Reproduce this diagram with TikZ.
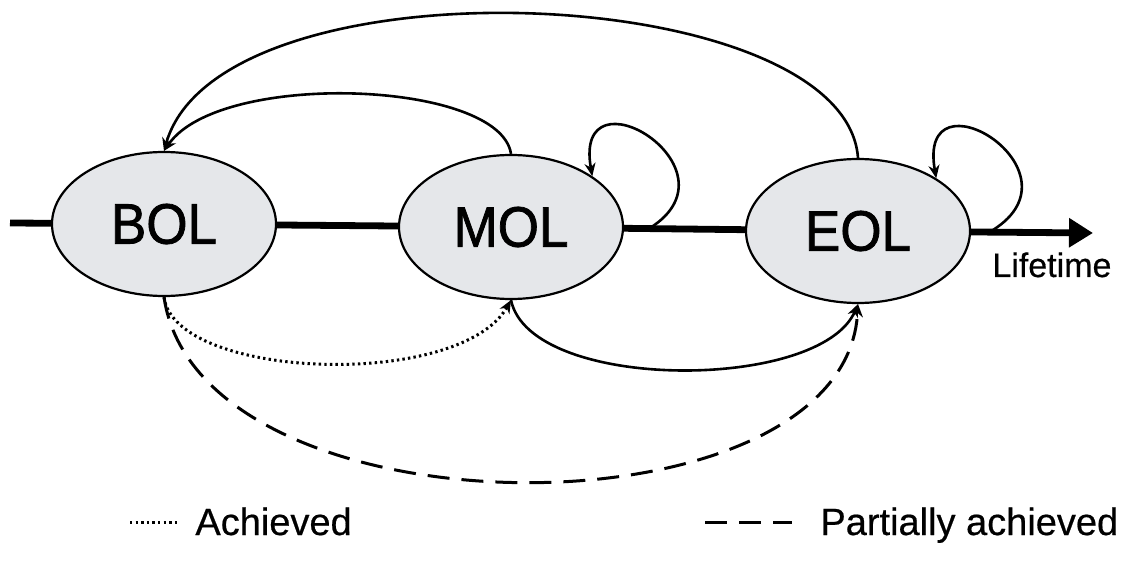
\documentclass[tikz,border=0pt]{standalone}
\usepackage{graphicx}
\usepackage{fontspec}
\setmainfont{Liberation Sans}
\newfontfamily\stagefont[FakeBold=1.4]{Liberation Sans}
\newfontfamily\labelfont[FakeBold=0.5]{Liberation Sans}
\usetikzlibrary{shapes.geometric,arrows.meta}
\definecolor{stagefill}{RGB}{229,231,234}
\begin{document}
\begin{tikzpicture}[x=0.5pt,y=-0.5pt,
  stage/.style={ellipse,draw,line width=1.1pt,fill=stagefill,
    minimum width=112pt,minimum height=72pt,inner sep=0pt,
    font=\stagefont\fontsize{28.5}{30}\selectfont},
  timeline/.style={line width=3.4pt},
  flow/.style={line width=1.3pt,-{Stealth[length=6.5pt,width=5.5pt]}},
  dotline/.style={line width=1.5pt,dash pattern=on 1.2pt off 1.6pt},
  dashline/.style={line width=1.5pt,dash pattern=on 11pt off 6pt},
  legend/.style={font=\labelfont\fontsize{19}{22}\selectfont,anchor=base west,inner sep=0pt}]
\useasboundingbox (0,0) rectangle (1128,571);

% life-cycle stages
\node[stage] (bol) at (164,224) {\scalebox{0.93}[1]{BOL}};
\node[stage] (mol) at (511,227) {\scalebox{0.93}[1]{MOL}};
\node[stage] (eol) at (858,231) {\scalebox{0.93}[1]{EOL}};

% lifetime axis
\coordinate (origin) at (10,223);
\coordinate (tip) at (1093,233);
\draw[timeline] (origin) -- (bol);
\draw[timeline] (bol) -- (mol);
\draw[timeline] (mol) -- (eol);
\draw[timeline,-{Triangle[length=12pt,width=14pt]}] (eol) -- (tip);
\node[anchor=base west,inner sep=0pt,font=\labelfont\fontsize{17}{20}\selectfont] (lifetime) at (992,277) {Lifetime};

% feedback arcs above the axis
\draw[flow] (mol.north) .. controls (500,80) and (220,70) .. (bol.north);
\draw[flow] (eol.north) .. controls (845,-20) and (220,-45) .. (bol.north);

% self loops
\coordinate (mloop) at (650,228);
\coordinate (eloop) at (993,230);
\draw[flow] (mloop) .. controls +(95,-60) and +(-20,-112) .. (mol.32);
\draw[flow] (eloop) .. controls +(95,-60) and +(-20,-112) .. (eol.34);

% forward arcs below the axis
\draw[flow,dotline] (bol.south) .. controls (175,380) and (460,390) .. (mol.south);
\draw[flow] (mol.south) .. controls (530,392) and (820,392) .. (eol.south);
\draw[flow,dashline] (bol.south) .. controls (200,542) and (846,542) .. (eol.south);

% legend
\coordinate (dotA) at (130,522);
\coordinate (dotB) at (180,522);
\draw[dotline] (dotA) -- (dotB);
\node[legend] (achieved) at (195,535) {Achieved};
\coordinate (dashA) at (705,522);
\coordinate (dashB) at (792,522);
\draw[dashline] (dashA) -- (dashB);
\node[legend] (partial) at (820,535) {Partially achieved};
\end{tikzpicture}
\end{document}
